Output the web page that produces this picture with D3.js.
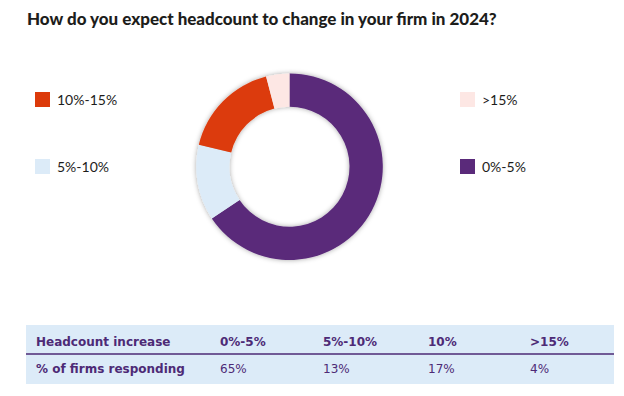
<!DOCTYPE html>
<html><head><meta charset="utf-8">
<script src="https://cdn.jsdelivr.net/npm/d3@7"></script>
<style>body{margin:0;background:#fff;}svg{display:block;}</style>
</head><body>
<script>
const title = "How do you expect headcount to change in your firm in 2024?";
const categories = ["0%-5%", "5%-10%", "10%-15%", ">15%"];
const values = [65, 13, 17, 4];
const colors = ["#5a2a7a", "#dcebf8", "#dc3a0a", "#fde7e4"];
const tableHeader = ["Headcount increase", "0%-5%", "5%-10%", "10%", ">15%"];
const tableRow = ["% of firms responding", "65%", "13%", "17%", "4%"];

const W = 624, H = 396;
const svg = d3.select("body").append("svg").attr("width", W).attr("height", H);
const font = "Lato, 'Open Sans', sans-serif";
const tfont = "'DejaVu Sans', sans-serif";

const defs = svg.append("defs");
const f = defs.append("filter").attr("id", "sh").attr("x", "-20%").attr("y", "-20%").attr("width", "140%").attr("height", "140%");
f.append("feDropShadow").attr("dx", 0).attr("dy", 0).attr("stdDeviation", 2.5).attr("flood-color", "#000").attr("flood-opacity", 0.35);

// title
const t = svg.append("text").attr("x", 27).attr("y", 25).attr("font-family", "Lato, 'Open Sans', sans-serif")
  .attr("font-weight", 900).attr("font-size", 16).attr("fill", "#1d1d1b").text(title);
const tl = t.node().getComputedTextLength();
t.attr("font-size", 16 * 470 / tl);

// donut
const cx = 289.5, cy = 166.7, rOut = 93.3, rIn = 60;
const pie = d3.pie().sort(null).value(d => d.v);
const arc = d3.arc().innerRadius(rIn).outerRadius(rOut);
const data = categories.map((c, i) => ({c, v: values[i], col: colors[i]}));
const g = svg.append("g").attr("transform", `translate(${cx},${cy})`).attr("filter", "url(#sh)");
g.selectAll("path").data(pie(data)).join("path").attr("d", arc).attr("fill", d => d.data.col);

// legend
const legend = [
  {c: "10%-15%", x: 35, y: 92},
  {c: "5%-10%", x: 35, y: 159},
  {c: ">15%", x: 460, y: 92},
  {c: "0%-5%", x: 460, y: 159}
];
const lg = svg.append("g");
legend.forEach(l => {
  const i = categories.indexOf(l.c);
  lg.append("rect").attr("x", l.x).attr("y", l.y).attr("width", 15).attr("height", 15).attr("fill", colors[i]);
  lg.append("text").attr("x", l.x + 22).attr("y", l.y + 13).attr("font-family", font)
    .attr("font-size", 14).attr("fill", "#1d1d1b").text(l.c);
});

// table
const tx = 26, tw = 588, ty = 325, th = 59;
const tg = svg.append("g");
tg.append("rect").attr("x", tx).attr("y", ty).attr("width", tw).attr("height", th).attr("fill", "#dcebf8");
tg.append("line").attr("x1", tx).attr("x2", tx + tw).attr("y1", 354).attr("y2", 354)
  .attr("stroke", "#4d2a76").attr("stroke-width", 1.3);
const colX = [36, 220, 323, 428, 530];
const purple = "#4d2a76";
tableHeader.forEach((s, i) => {
  tg.append("text").attr("x", colX[i]).attr("y", 345.7).attr("font-family", tfont).attr("font-weight", 700)
    .attr("font-size", 12).attr("fill", purple).text(s);
});
tableRow.forEach((s, i) => {
  tg.append("text").attr("x", colX[i]).attr("y", 373.3).attr("font-family", tfont).attr("font-weight", i === 0 ? 700 : 400)
    .attr("font-size", 12).attr("fill", purple).text(s);
});
</script>
</body></html>
